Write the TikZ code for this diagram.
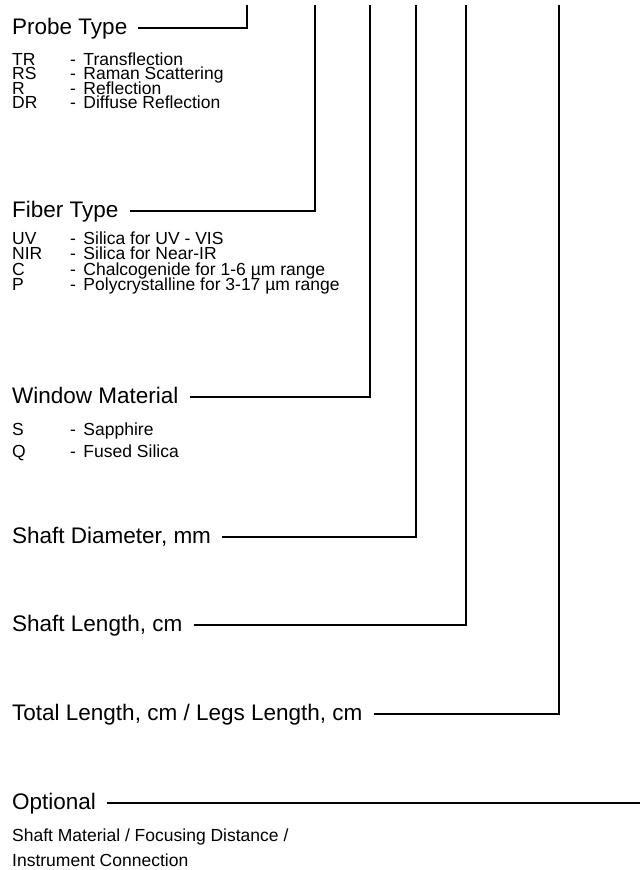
\documentclass[tikz,border=0pt]{standalone}
\usepackage{fontspec}
\setmainfont{Liberation Sans}
\newcommand{\lrow}[2]{\makebox[58pt][l]{#1}\makebox[13.3pt][l]{-}#2}
\newcommand{\tightlines}{\lineskiplimit=-100pt\relax\lineskip=0pt\relax}
\newcommand{\itemfont}[1]{\fontsize{17.5}{#1}\selectfont\tightlines}
\begin{document}
\begin{tikzpicture}[x=1pt,y=-1pt,
  head/.style={anchor=base west,inner sep=0pt,font={\fontsize{22.5}{27}\selectfont}},
  item/.style={anchor=base west,inner sep=0pt,align=left,font={\itemfont{14.5}}},
  lead/.style={line width=2pt,line join=miter}]
\useasboundingbox (0,0) rectangle (640,870);
% tops of the vertical leaders
\coordinate (t1) at (247.3,5);
\coordinate (t2) at (315,5);
\coordinate (t3) at (370,5);
\coordinate (t4) at (415.7,5);
\coordinate (t5) at (466,5);
\coordinate (t6) at (559,5);
\coordinate (oend) at (640,802.7);
% Probe Type (anchor = baseline of the last line)
\node[head] (ph) at (12,34.3) {Probe Type};
\node[item] (pl) at (12,108.5) {\lrow{TR}{Transflection}\\
  \lrow{RS}{Raman Scattering}\\
  \lrow{R}{Reflection}\\
  \lrow{DR}{Diffuse Reflection}};
% Fiber Type
\node[head] (fh) at (12,217.3) {Fiber Type};
\node[item,font={\itemfont{15.5}}] (fl) at (12,290.5) {\lrow{UV}{Silica for UV - VIS}\\
  \lrow{NIR}{Silica for Near-IR}\\
  \lrow{C}{Chalcogenide for 1-6 µm range}\\
  \lrow{P}{Polycrystalline for 3-17 µm range}};
% Window Material
\node[head] (wh) at (12,403.3) {Window Material};
\node[item,font={\itemfont{22}}] (wl) at (12,457) {\lrow{S}{Sapphire}\\
  \lrow{Q}{Fused Silica}};
% Shaft Diameter, Shaft Length, Total Length
\node[head] (sd) at (12,543.3) {Shaft Diameter, mm};
\node[head] (sl) at (12,631.7) {Shaft Length, cm};
\node[head] (tl) at (12,720.7) {Total Length, cm / Legs Length, cm};
% Optional
\node[head] (op) at (12,809) {Optional};
\node[item,font={\itemfont{25}}] (ol) at (12,866.7) {Shaft Material / Focusing Distance /\\
  Instrument Connection};
% leaders
\draw[lead] (ph.base east) ++(11,-6.6) -| (t1);
\draw[lead] (fh.base east) ++(11,-6.6) -| (t2);
\draw[lead] (wh.base east) ++(11,-6.6) -| (t3);
\draw[lead] (sd.base east) ++(11,-6.6) -| (t4);
\draw[lead] (sl.base east) ++(11,-6.6) -| (t5);
\draw[lead] (tl.base east) ++(11,-6.6) -| (t6);
\draw[lead] (op.base east) ++(11,-6.3) -- (oend);
\end{tikzpicture}
\end{document}
